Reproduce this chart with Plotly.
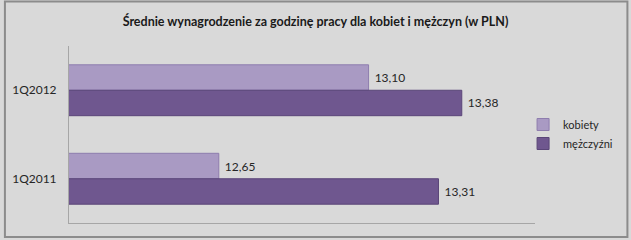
import plotly.graph_objects as go

categories = ["1Q2012", "1Q2011"]
kobiety = [13.10, 12.65]
mezczyzni = [13.38, 13.31]
series_names = ["kobiety", "mężczyźni"]
title_text = "Średnie wynagrodzenie za godzinę pracy dla kobiet i mężczyn (w PLN)"

W, H = 631, 240
L, R, T, B = 66, 96, 46, 17
pw, ph = W - L - R, H - T - B

FONT = "Lato, 'Open Sans', sans-serif"
TXT = "#262626"

fig = go.Figure()
fig.add_trace(go.Bar(
    y=categories, x=kobiety, name=series_names[0], orientation="h",
    marker=dict(color="#A99AC3", line=dict(color="#8E7DAE", width=1)),
    texttemplate="\u00a0%{x:.2f}", textposition="outside",
    textfont=dict(size=12, color=TXT, family=FONT), cliponaxis=False,
))
fig.add_trace(go.Bar(
    y=categories, x=mezczyzni, name=series_names[1], orientation="h",
    marker=dict(color="#6F578F", line=dict(color="#5A4578", width=1)),
    texttemplate="\u00a0%{x:.2f}", textposition="outside",
    textfont=dict(size=12, color=TXT, family=FONT), cliponaxis=False,
))

def px_x(p):
    return (p - L) / pw

def px_y(p):
    return (H - B - p) / ph

fig.update_layout(
    width=W, height=H,
    margin=dict(l=L, r=R, t=T, b=B),
    paper_bgcolor="#D9D9D9", plot_bgcolor="#D9D9D9",
    separators=", ",
    barmode="group", bargap=0.425, bargroupgap=0,
    font=dict(family=FONT, size=12, color=TXT),
    title=dict(text="<b>" + title_text + "</b>", x=0.5, xanchor="center",
               y=1 - 22 / H, yanchor="middle",
               font=dict(size=12.5, color="#1A1A1A", family=FONT)),
    xaxis=dict(range=[12.2, 13.6], showticklabels=False, showgrid=False,
               zeroline=False, showline=True, linecolor="#A6A6A6", linewidth=1,
               ticks=""),
    yaxis=dict(autorange="reversed", showgrid=False, zeroline=False,
               showline=True, linecolor="#A6A6A6", linewidth=1, ticks="",
               ticklabelstandoff=9, tickfont=dict(size=12, color=TXT)),
    legend=dict(x=px_x(523), y=px_y(134), xanchor="left", yanchor="middle",
                bgcolor="rgba(0,0,0,0)", font=dict(size=11, color=TXT, family=FONT),
                tracegroupgap=0),
    showlegend=True,
)

fig.add_shape(type="rect", xref="paper", yref="paper",
              x0=px_x(1.5), x1=px_x(628), y0=px_y(1.5), y1=px_y(237),
              line=dict(color="#8C8C8C", width=2), fillcolor="rgba(0,0,0,0)",
              layer="above")

fig.write_html("out.html")
